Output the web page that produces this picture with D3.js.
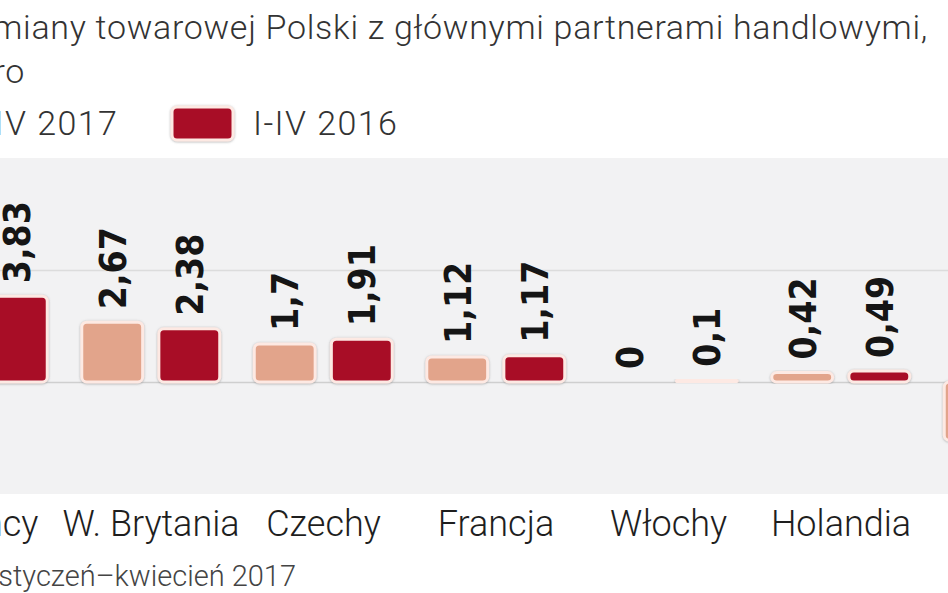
<!DOCTYPE html>
<html><head>
<meta charset="utf-8">
<title>Saldo wymiany towarowej</title>
<script src="https://d3js.org/d3.v7.min.js"></script>
<style>
  body { margin: 0; background: #fff; }
  svg { display: block; }
  .title { font-family: Roboto, "Open Sans", sans-serif; font-weight: 300; fill: #333; letter-spacing: 0.7px; }
  .legend-text { font-family: Roboto, sans-serif; font-weight: 300; fill: #333; font-size: 34px; letter-spacing: 1.4px; }
  .cat { font-family: Roboto, sans-serif; font-weight: 300; font-size: 36px; fill: #1e1e1e; }
  .val { font-family: "DejaVu Sans Condensed", "Liberation Sans Narrow", sans-serif; font-weight: bold; font-size: 37px; fill: #151515; }
  .source { font-family: Roboto, sans-serif; font-weight: 300; font-size: 29px; fill: #444; }
  .grid .domain { stroke: none; }
</style>
</head>
<body>
<svg id="chart" width="948" height="593"></svg>
<script>
  // data, mld euro
  const countries = ["Niemcy", "W. Brytania", "Czechy", "Francja", "Włochy", "Holandia", "Rosja"];
  const series = ["I-IV 2017", "I-IV 2016"];
  const values2017 = [4.2, 2.67, 1.7, 1.12, 0, 0.42, -2.6];
  const values2016 = [3.83, 2.38, 1.91, 1.17, 0.1, 0.49, -1.9];
  const colors = ["#e2a48b", "#a80f28"];

  const svg = d3.select("#chart");
  const width = +svg.attr("width");

  // the picture is a crop, so first and last group run off the edges
  const xScale = d3.scaleBand().domain(countries).range([-107.75, 1099.75]);
  const xSub = d3.scaleBand().domain(series).range([17, 155]).paddingInner(0.21);
  const yScale = d3.scaleLinear().domain([-5, 10]).range([494, 158]);

  const defs = svg.append("defs");
  const shadow = defs.append("filter").attr("id", "shadow")
    .attr("x", "-20%").attr("y", "-20%").attr("width", "140%").attr("height", "140%");
  shadow.append("feDropShadow").attr("dx", 0).attr("dy", 0.5)
    .attr("stdDeviation", 1).attr("flood-color", "#777").attr("flood-opacity", 0.6);

  // title (starts off the left edge)
  svg.append("text").attr("class", "title")
    .attr("x", 928).attr("y", 39).attr("text-anchor", "end").attr("font-size", 34)
    .text("Saldo wymiany towarowej Polski z głównymi partnerami handlowymi,");
  svg.append("text").attr("class", "title")
    .attr("x", 25).attr("y", 83).attr("text-anchor", "end").attr("font-size", 34)
    .text("mld euro");

  // legend
  const legend = svg.selectAll(".legend").data(series).enter()
    .append("g").attr("class", "legend")
    .attr("transform", (d, i) => "translate(" + (-108 + i * 280) + ",107)");
  legend.append("rect")
    .attr("width", 61).attr("height", 33).attr("rx", 5)
    .attr("fill", (d, i) => colors[i])
    .attr("stroke", "#fde9e3").attr("stroke-width", 3)
    .attr("filter", "url(#shadow)");
  legend.append("text").attr("class", "legend-text")
    .attr("x", 81).attr("y", 28)
    .text(d => d);

  // panel
  svg.append("rect")
    .attr("x", 0).attr("y", yScale(10))
    .attr("width", width).attr("height", yScale(-5) - yScale(10))
    .attr("fill", "#f2f2f3");

  svg.append("g").attr("class", "grid")
    .call(d3.axisLeft(yScale).tickValues([5, 0]).tickSize(-width * 2).tickFormat(""))
    .selectAll("line")
    .attr("stroke", d => d === 0 ? "#cfcfcf" : "#dcdcdc")
    .attr("stroke-width", 1.5);

  // bars
  const rows = [];
  countries.forEach((c, i) => {
    rows.push({ country: c, s: series[0], v: values2017[i], color: colors[0] });
    rows.push({ country: c, s: series[1], v: values2016[i], color: colors[1] });
  });

  const bars = svg.append("g").selectAll(".bar").data(rows).enter()
    .append("g").attr("class", "bar")
    .attr("transform", d => "translate(" + (xScale(d.country) + xSub(d.s)) + ",0)");

  bars.filter(d => d.v !== 0).append("rect")
    .attr("x", 0)
    .attr("y", d => yScale(Math.max(0, d.v)))
    .attr("width", xSub.bandwidth())
    .attr("height", d => Math.abs(yScale(d.v) - yScale(0)))
    .attr("rx", 5)
    .attr("fill", d => d.color)
    .attr("stroke", "#fde9e3").attr("stroke-width", 3)
    .attr("filter", "url(#shadow)");

  bars.append("text").attr("class", "val")
    .attr("transform", d => {
      const yy = d.v >= 0 ? yScale(d.v) - 13 : yScale(d.v) + 13;
      return "translate(" + (xSub.bandwidth() / 2) + "," + yy + ") rotate(-90)";
    })
    .attr("dy", "0.36em")
    .attr("text-anchor", d => d.v >= 0 ? "start" : "end")
    .text(d => String(d.v).replace(".", ","));

  // category labels
  svg.selectAll(".cat").data(countries).enter()
    .append("text").attr("class", "cat")
    .attr("x", d => xScale(d) + xScale.bandwidth() / 2)
    .attr("y", 536)
    .attr("text-anchor", "middle")
    .text(d => d);

  svg.append("text").attr("class", "source")
    .attr("x", 296).attr("y", 586).attr("text-anchor", "end")
    .text("Źródło: GUS, styczeń–kwiecień 2017");
</script>
</body>
</html>
